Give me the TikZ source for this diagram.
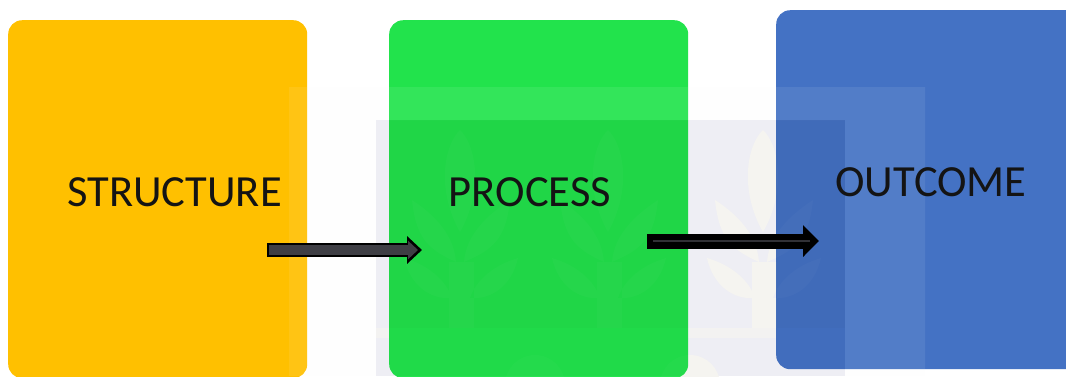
\documentclass[tikz,border=0pt]{standalone}
\usepackage{fontspec}
\setmainfont{Carlito}
\usetikzlibrary{arrows.meta}
\definecolor{cyellow}{RGB}{255,192,0}
\definecolor{cgreen}{RGB}{34,227,76}
\definecolor{cblue}{RGB}{68,114,196}
\definecolor{wminner}{RGB}{238,238,244}
\definecolor{wmouter}{RGB}{254,254,254}
\definecolor{wmleaf}{RGB}{245,244,240}
\definecolor{shaftgrey}{RGB}{62,62,68}
\newcommand{\plantpath}[1]{%
  (#1,130) .. controls (#1+16,145) and (#1+24,190) .. (#1,232) .. controls (#1-24,190) and (#1-16,145) .. (#1,130) -- cycle
  (#1-48,200) .. controls (#1-44,240) and (#1-30,250) .. (#1-4,262) .. controls (#1-6,235) and (#1-25,215) .. (#1-48,200) -- cycle
  (#1+50,200) .. controls (#1+46,240) and (#1+32,250) .. (#1+4,262) .. controls (#1+6,235) and (#1+27,215) .. (#1+50,200) -- cycle
  (#1-56,258) .. controls (#1-50,285) and (#1-30,300) .. (#1-8,298) .. controls (#1-14,280) and (#1-32,265) .. (#1-56,258) -- cycle
  (#1+58,258) .. controls (#1+52,285) and (#1+32,300) .. (#1+10,298) .. controls (#1+16,280) and (#1+34,265) .. (#1+58,258) -- cycle
  (#1-11,262) rectangle (#1+14,328)
}
\newcommand{\boxesclip}{%
  [rounded corners=14] (8,20) rectangle (307,378) (389,20) rectangle (688,378) (776,10) rectangle (1080,369)}
\tikzset{
  x=1pt,y=-1pt,
  panel/.style={rectangle,rounded corners=14,inner sep=0pt,anchor=north west,draw=none},
  label/.style={font=\fontsize{44.5}{44.5}\selectfont,text=black!92,inner sep=0pt,anchor=center},
  arrowout/.style={draw=black,line width=14pt,-{Triangle[length=15pt,width=27pt]}},
  arrowin/.style={draw=shaftgrey,line width=10pt,-{Triangle[length=10pt,width=18pt]}},
  arrowthin/.style={draw=shaftgrey,line width=1.6pt,opacity=.8},
}
\begin{document}
\begin{tikzpicture}
\useasboundingbox (0,0) rectangle (1066,376);
\clip (0,0) rectangle (1066,376);
\fill[white] (0,0) rectangle (1066,376);
% watermark beneath the panels
\fill[wmouter] (289,87) rectangle (925,376);
\fill[wminner] (376,120) rectangle (845,376);
\fill[wmleaf] \plantpath{460} \plantpath{608} \plantpath{763};
\fill[wmleaf!70!wminner] (376,328) rectangle (845,338);
\fill[wmleaf] (535,385) circle (30) (690,385) circle (30);
% panels
\node[panel,fill=cyellow,minimum width=299,minimum height=358] (structure) at (8,20) {};
\node[panel,fill=cgreen,minimum width=299,minimum height=358] (process) at (389,20) {};
\node[panel,fill=cblue,minimum width=304,minimum height=359] (outcome) at (776,10) {};
% watermark above the panels
\begin{scope}
\clip \boxesclip;
\fill[white,opacity=.08,even odd rule] (289,87) rectangle (925,376) (376,120) rectangle (845,376);
\fill[black,opacity=.055] (376,120) rectangle (845,328);
\fill[black,opacity=.035] (376,328) rectangle (845,376);
\fill[white,opacity=.025] \plantpath{460} \plantpath{608} \plantpath{763};
\fill[white,opacity=.02] (535,385) circle (30) (690,385) circle (30);
\end{scope}
% labels
\node[label] (tstructure) at (174.5,192) {STRUCTURE};
\node[label] (tprocess) at (530,192) {PROCESS};
\node[label] (toutcome) at (931,182) {OUTCOME};
% arrows
\coordinate (a1s) at (267,250);
\coordinate (a1e) at (422,250);
\coordinate (a1si) at (269,250);
\coordinate (a1ei) at (418,250);
\draw[arrowout] (a1s) -- (a1e);
\draw[arrowin] (a1si) -- (a1ei);
\coordinate (a2s) at (647,241);
\coordinate (a2e) at (819,241);
\coordinate (a2si) at (653,241);
\coordinate (a2ei) at (810,241);
\draw[arrowout,line width=15pt,-{Triangle[length=16pt,width=31pt]}] (a2s) -- (a2e);
\draw[arrowthin] (a2si) -- (a2ei);
\end{tikzpicture}
\end{document}
